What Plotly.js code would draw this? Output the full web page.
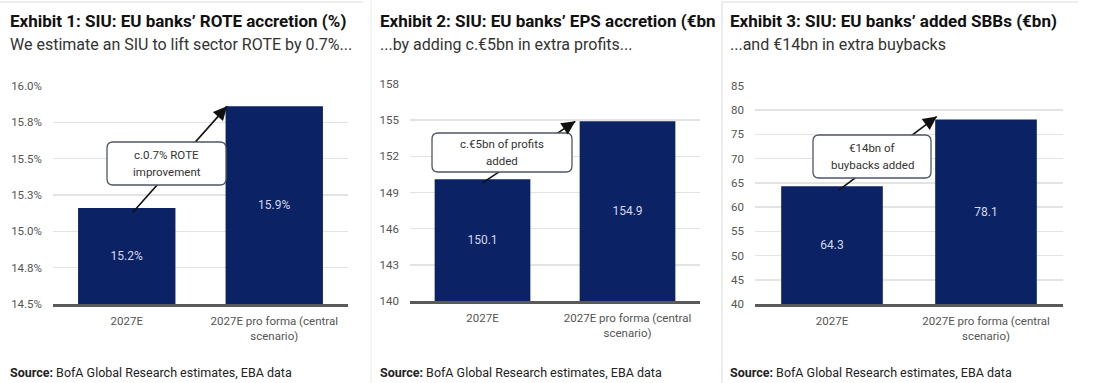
<!DOCTYPE html>
<html>
<head>
<meta charset="utf-8">
<script src="https://cdn.plot.ly/plotly-3.0.1.min.js"></script>
<style>html,body{margin:0;padding:0;background:#fff;}#chart{width:1112px;height:383px;}</style>
</head>
<body>
<div id="chart"></div>
<script>
// ---- data ----
const categories = ["2027E", "2027E pro forma (central scenario)"];
const categoryTickLabels = ["2027E", "2027E pro forma (central<br>scenario)"];
const roteValues = [15.16, 15.86];
const roteLabels = ["15.2%", "15.9%"];
const epsValues = [150.1, 154.9];
const epsLabels = ["150.1", "154.9"];
const sbbValues = [64.3, 78.1];
const sbbLabels = ["64.3", "78.1"];
const roteTicks = [14.5, 14.75, 15.0, 15.25, 15.5, 15.75, 16.0];
const roteTickLabels = ["14.5%", "14.8%", "15.0%", "15.3%", "15.5%", "15.8%", "16.0%"];
const epsTicks = [140, 143, 146, 149, 152, 155, 158];
const sbbTicks = [40, 45, 50, 55, 60, 65, 70, 75, 80, 85];
const titles = [
  "Exhibit 1: SIU: EU banks\u2019 ROTE accretion (%)",
  "Exhibit 2: SIU: EU banks\u2019 EPS accretion (\u20acbn",
  "Exhibit 3: SIU: EU banks\u2019 added SBBs (\u20acbn)"
];
const subtitles = [
  "We estimate an SIU to lift sector ROTE by 0.7%...",
  "...by adding c.\u20ac5bn in extra profits...",
  "...and \u20ac14bn in extra buybacks"
];
const boxLines = [["c.0.7% ROTE", "improvement"], ["c.\u20ac5bn of profits", "added"], ["\u20ac14bn of", "buybacks added"]];
const sourceText = "<b>Source:</b> BofA Global Research estimates, EBA data";

// ---- layout helpers ----
const W = 1112, H = 383;
const PX = x => x / W;
const PY = y => 1 - y / H;
const FONT = "Roboto, 'Liberation Sans', sans-serif";
const NAVY = "#0b2265";

const panels = [
  {vals: roteValues, labels: roteLabels, ticks: roteTicks, tickText: roteTickLabels, range: [14.5, 16.0],
   xd: [53, 348], yd: [304, 86], left: 8,
   line: [0.04, 15.13, 0.68, 15.86], head: [-9, 10],
   box: [107, 142, 226, 185]},
  {vals: epsValues, labels: epsLabels, ticks: epsTicks, tickText: epsTicks.map(String), range: [140, 158],
   xd: [410, 700], yd: [301, 84], left: 378,
   line: [0.0, 149.8, 0.64, 154.9], head: [-12, 8],
   box: [432, 133, 572, 172]},
  {vals: sbbValues, labels: sbbLabels, ticks: sbbTicks, tickText: sbbTicks.map(String), range: [40, 85],
   xd: [755, 1063], yd: [304, 86], left: 728,
   line: [0.045, 63.5, 0.68, 78.7], head: [-11, 8],
   box: [813, 135, 931, 178]}
];

const data = [];
const layout = {
  width: W, height: H,
  margin: {l: 0, r: 0, t: 0, b: 0},
  paper_bgcolor: "#fff", plot_bgcolor: "#fff",
  showlegend: false,
  font: {family: FONT, color: "#333"},
  shapes: [], annotations: []
};

panels.forEach((p, i) => {
  const n = i === 0 ? "" : String(i + 1);
  const xa = "x" + n, ya = "y" + n;
  const base = p.range[0];
  data.push({
    type: "bar", x: categories, y: p.vals.map(v => v - base), base: base, text: p.labels,
    xaxis: xa, yaxis: ya,
    marker: {color: NAVY}, width: 0.66,
    textposition: "inside", insidetextanchor: "middle", constraintext: "none",
    textfont: {family: FONT, size: 12, color: "#d4d8e8"},
    hoverinfo: "skip"
  });
  layout["xaxis" + n] = {
    domain: [PX(p.xd[0]), PX(p.xd[1])], anchor: ya,
    type: "category", tickvals: categories, ticktext: categoryTickLabels,
    showgrid: false, showline: true, linecolor: "#5a5a5a", linewidth: 2.5,
    ticks: "", ticklabelstandoff: 5,
    tickfont: {family: FONT, size: 11.5, color: "#555"}, fixedrange: true
  };
  layout["yaxis" + n] = {
    domain: [PY(p.yd[0]), PY(p.yd[1])], anchor: xa,
    range: p.range, tickvals: p.ticks, ticktext: p.tickText,
    showgrid: true, gridcolor: "#e3e3e3", gridwidth: 1.5,
    zeroline: false, showline: false, ticks: "", ticklabelstandoff: 10,
    tickfont: {family: FONT, size: 11.5, color: "#555"}, fixedrange: true
  };
  // arrow line (drawn beneath the box)
  layout.shapes.push({type: "line", xref: xa, yref: ya, x0: p.line[0], y0: p.line[1], x1: p.line[2], y1: p.line[3],
    line: {color: "#111", width: 1.6}});
  // rounded box
  const [bx0, by0, bx1, by1] = p.box, r = 6;
  const path = `M ${PX(bx0 + r)},${PY(by0)} L ${PX(bx1 - r)},${PY(by0)} Q ${PX(bx1)},${PY(by0)} ${PX(bx1)},${PY(by0 + r)} ` +
    `L ${PX(bx1)},${PY(by1 - r)} Q ${PX(bx1)},${PY(by1)} ${PX(bx1 - r)},${PY(by1)} L ${PX(bx0 + r)},${PY(by1)} ` +
    `Q ${PX(bx0)},${PY(by1)} ${PX(bx0)},${PY(by1 - r)} L ${PX(bx0)},${PY(by0 + r)} Q ${PX(bx0)},${PY(by0)} ${PX(bx0 + r)},${PY(by0)} Z`;
  layout.shapes.push({type: "path", xref: "paper", yref: "paper", path: path,
    fillcolor: "#fff", line: {color: "#4e5666", width: 1.3}, layer: "above"});
  // box text (two lines)
  const cy = (by0 + by1) / 2;
  boxLines[i].forEach((t, k) => {
    layout.annotations.push({xref: "paper", yref: "paper", x: PX((bx0 + bx1) / 2), y: PY(cy + (k === 0 ? -8.5 : 8.5)),
      text: t, showarrow: false, xanchor: "center", yanchor: "middle",
      font: {family: FONT, size: 11.5, color: "#333"}});
  });
  // arrow head
  layout.annotations.push({xref: xa, yref: ya, x: p.line[2], y: p.line[3], ax: p.head[0], ay: p.head[1],
    text: "", showarrow: true, arrowhead: 2, arrowsize: 1.7, arrowwidth: 1.6, arrowcolor: "#111", standoff: 0});
  // titles
  layout.annotations.push({xref: "paper", yref: "paper", x: PX(p.left), y: PY(21), xanchor: "left", yanchor: "middle",
    text: "<b>" + titles[i] + "</b>", showarrow: false, font: {family: FONT, size: 17, color: "#111"}});
  layout.annotations.push({xref: "paper", yref: "paper", x: PX(p.left), y: PY(44), xanchor: "left", yanchor: "middle",
    text: subtitles[i], showarrow: false, font: {family: FONT, size: 16, color: "#333"}});
  layout.annotations.push({xref: "paper", yref: "paper", x: PX(p.left), y: PY(372), xanchor: "left", yanchor: "middle",
    text: sourceText, showarrow: false, font: {family: FONT, size: 12.5, color: "#222"}});
});

// panel frames
layout.shapes.push({type: "line", xref: "paper", yref: "paper", x0: 0, x1: PX(363), y0: PY(2), y1: PY(2), line: {color: "#dcdcdc", width: 1}});
layout.shapes.push({type: "line", xref: "paper", yref: "paper", x0: PX(371), x1: PX(371), y0: 0, y1: 1, line: {color: "#ececec", width: 1}});
layout.shapes.push({type: "line", xref: "paper", yref: "paper", x0: PX(722), x1: PX(1078), y0: PY(2), y1: PY(2), line: {color: "#dcdcdc", width: 1}});
layout.shapes.push({type: "line", xref: "paper", yref: "paper", x0: PX(722), x1: PX(722), y0: 0, y1: PY(2), line: {color: "#dcdcdc", width: 1}});

Plotly.newPlot("chart", data, layout, {displayModeBar: false, staticPlot: true});
</script>
</body>
</html>
